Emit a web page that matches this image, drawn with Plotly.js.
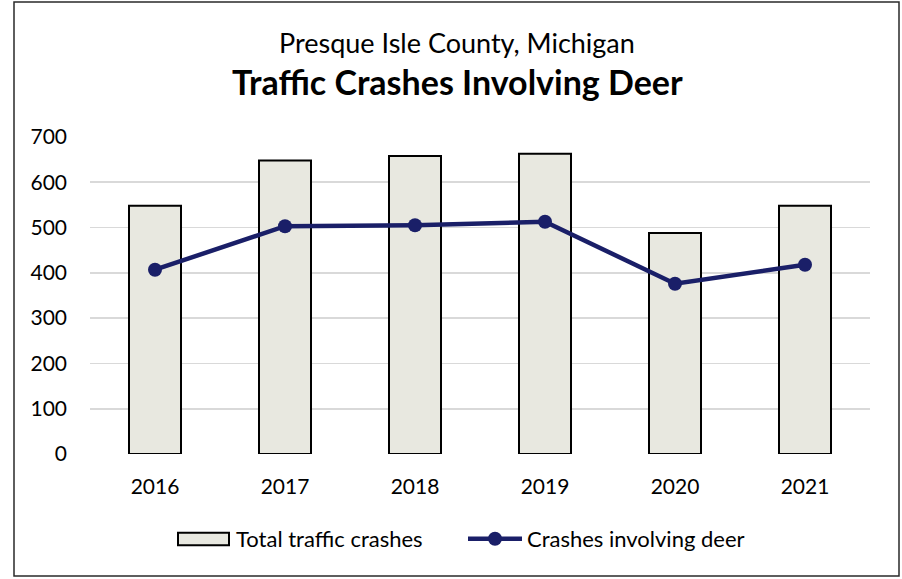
<!DOCTYPE html>
<html>
<head>
<meta charset="utf-8">
<script src="https://cdn.plot.ly/plotly-3.0.1.min.js"></script>
<style>html,body{margin:0;padding:0;background:#fff;}#chart{width:902px;height:579px;}</style>
</head>
<body>
<div id="chart"></div>
<script>
const years = ['2016', '2017', '2018', '2019', '2020', '2021'];
const totalCrashes = [548, 648, 658, 663, 488, 548];
const deerCrashes = [407, 503, 505, 513, 376, 418];
const yTicks = [0, 100, 200, 300, 400, 500, 600, 700];
const seriesNames = ['Total traffic crashes', 'Crashes involving deer'];

const FONT = 'Lato, "Open Sans", sans-serif';
const navy = '#1A1F68';
const barFill = '#E8E8E0';

// plot area in pixels: x 90..870, y 136.5..454.5
const PL = 90, PW = 780, PB = 454.5, PH = 318;
const px = x => (x - PL) / PW;
const py = y => (PB - y) / PH;

const traces = [
  {
    type: 'bar',
    name: seriesNames[0],
    x: years,
    y: totalCrashes,
    width: 0.4,
    marker: {color: barFill, line: {color: '#000000', width: 2}},
    showlegend: false
  },
  {
    type: 'scatter',
    mode: 'lines+markers',
    name: seriesNames[1],
    x: years,
    y: deerCrashes,
    line: {color: navy, width: 4.5},
    marker: {color: navy, size: 14},
    showlegend: false
  }
];

const legendY = 539.5;

const layout = {
  width: 902,
  height: 579,
  margin: {l: PL, r: 902 - PL - PW, t: 136.5, b: 579 - PB},
  paper_bgcolor: '#ffffff',
  plot_bgcolor: '#ffffff',
  font: {family: FONT, color: '#000000', size: 21},
  showlegend: false,
  xaxis: {
    type: 'category',
    showgrid: false,
    zeroline: false,
    showline: false,
    ticks: '',
    tickfont: {size: 21, family: FONT},
    ticklabelstandoff: 18
  },
  yaxis: {
    range: [0, 700],
    tickvals: yTicks,
    ticktext: yTicks.map(String),
    showgrid: true,
    gridcolor: '#D9D9D9',
    gridwidth: 1.8,
    zeroline: false,
    showline: false,
    ticks: '',
    tickfont: {size: 21, family: FONT},
    ticklabelstandoff: 22
  },
  annotations: [
    {
      text: 'Presque Isle County, Michigan',
      xref: 'paper', yref: 'paper',
      x: px(456.5), y: py(42),
      xanchor: 'center', yanchor: 'middle',
      showarrow: false,
      font: {size: 27, family: FONT, color: '#000000'}
    },
    {
      text: '<b>Traffic Crashes Involving Deer</b>',
      xref: 'paper', yref: 'paper',
      x: px(457.5), y: py(81),
      xanchor: 'center', yanchor: 'middle',
      showarrow: false,
      font: {size: 34, family: FONT, color: '#000000'}
    },
    {
      text: seriesNames[0],
      xref: 'paper', yref: 'paper',
      x: px(234), y: py(legendY),
      xanchor: 'left', yanchor: 'middle',
      showarrow: false,
      font: {size: 22, family: FONT, color: '#000000'}
    },
    {
      text: seriesNames[1],
      xref: 'paper', yref: 'paper',
      x: px(525), y: py(legendY),
      xanchor: 'left', yanchor: 'middle',
      showarrow: false,
      font: {size: 22, family: FONT, color: '#000000'}
    }
  ],
  shapes: [
    {
      type: 'rect',
      xref: 'paper', yref: 'paper',
      x0: px(14), x1: px(899),
      y0: py(577), y1: py(1),
      line: {color: '#2a2a2a', width: 1.5},
      fillcolor: 'rgba(0,0,0,0)'
    },
    {
      type: 'rect',
      xref: 'paper', yref: 'paper',
      x0: px(178), x1: px(229),
      y0: py(546), y1: py(533.5),
      line: {color: '#000000', width: 2},
      fillcolor: barFill
    },
    {
      type: 'line',
      xref: 'paper', yref: 'paper',
      x0: px(468), x1: px(522),
      y0: py(legendY), y1: py(legendY),
      line: {color: navy, width: 4.5}
    },
    {
      type: 'circle',
      xref: 'paper', yref: 'paper',
      x0: px(495 - 7), x1: px(495 + 7),
      y0: py(legendY + 7), y1: py(legendY - 7),
      line: {color: navy, width: 0},
      fillcolor: navy
    }
  ]
};

Plotly.newPlot('chart', traces, layout, {displayModeBar: false, staticPlot: true});
</script>
</body>
</html>
